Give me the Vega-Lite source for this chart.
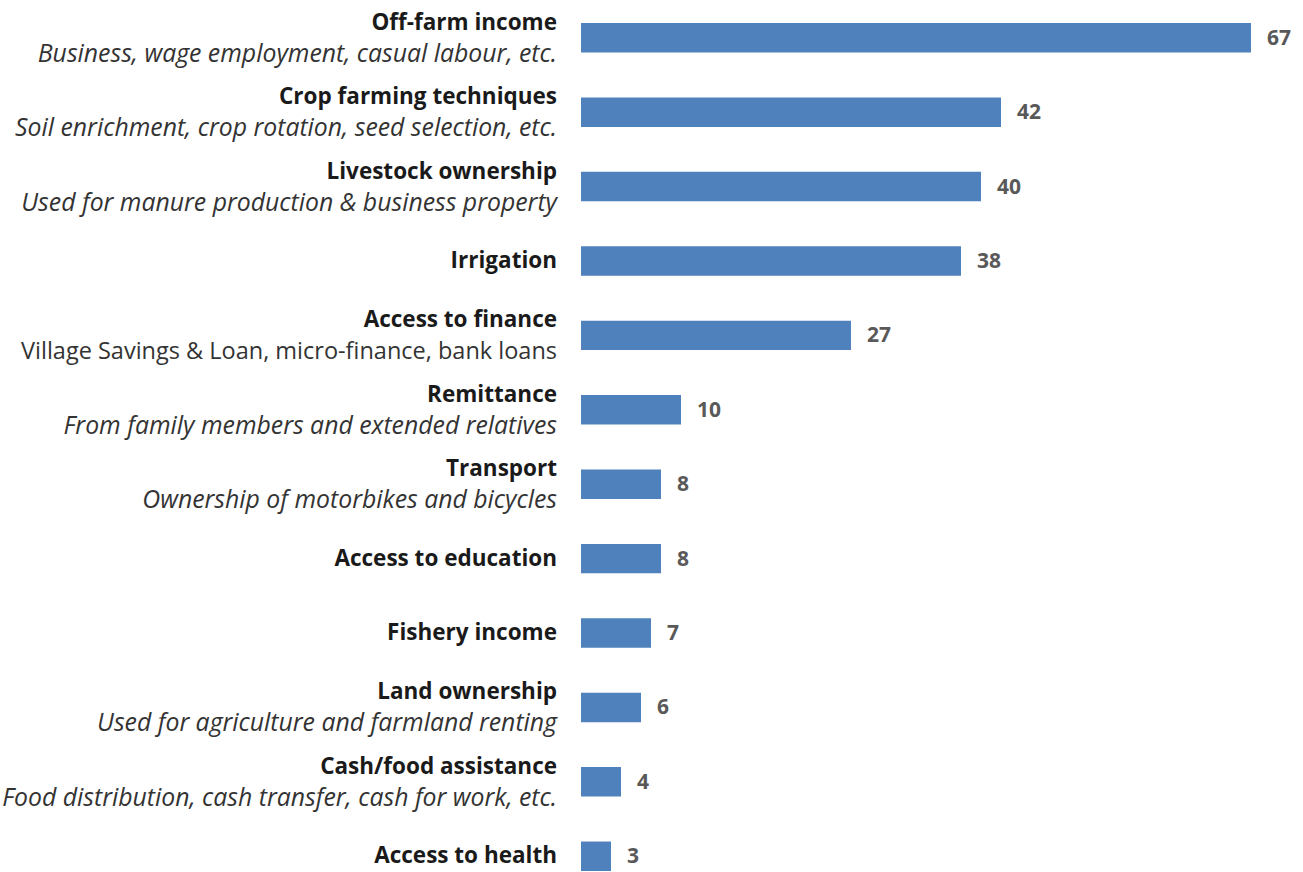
{
  "$schema": "https://vega.github.io/schema/vega-lite/v6.json",
  "width": 700,
  "height": 848,
  "autosize": {"type": "none"},
  "padding": {"left": 581, "top": 23, "right": 22, "bottom": 1},
  "background": "#ffffff",
  "config": {"view": {"stroke": null}},
  "data": {
    "values": [
      {"label": "Off-farm income", "sub": "Business, wage employment, casual labour, etc.", "value": 67},
      {"label": "Crop farming techniques", "sub": "Soil enrichment, crop rotation, seed selection, etc.", "value": 42},
      {"label": "Livestock ownership", "sub": "Used for manure production & business property", "value": 40},
      {"label": "Irrigation", "sub": "", "value": 38},
      {"label": "Access to finance", "sub": "Village Savings & Loan, micro-finance, bank loans", "value": 27},
      {"label": "Remittance", "sub": "From family members and extended relatives", "value": 10},
      {"label": "Transport", "sub": "Ownership of motorbikes and bicycles", "value": 8},
      {"label": "Access to education", "sub": "", "value": 8},
      {"label": "Fishery income", "sub": "", "value": 7},
      {"label": "Land ownership", "sub": "Used for agriculture and farmland renting", "value": 6},
      {"label": "Cash/food assistance", "sub": "Food distribution, cash transfer, cash for work, etc.", "value": 4},
      {"label": "Access to health", "sub": "", "value": 3}
    ]
  },
  "encoding": {
    "y": {"field": "label", "type": "nominal", "sort": null, "axis": null,
          "scale": {"paddingInner": 0.604, "paddingOuter": 0}}
  },
  "layer": [
    {
      "mark": {"type": "bar", "color": "#4F81BD"},
      "encoding": {
        "x": {"field": "value", "type": "quantitative", "axis": null, "scale": {"domain": [0, 70], "nice": false}}
      }
    },
    {
      "mark": {"type": "text", "align": "left", "baseline": "middle", "dx": 16, "dy": 1, "font": "Open Sans", "fontSize": 21, "fontWeight": "bold", "color": "#595959"},
      "encoding": {
        "x": {"field": "value", "type": "quantitative"},
        "text": {"field": "value", "type": "quantitative"}
      }
    },
    {
      "transform": [{"filter": "datum.sub != ''"}],
      "mark": {"type": "text", "align": "right", "baseline": "alphabetic", "dx": -24, "dy": -8, "font": "Open Sans", "fontSize": 22.5, "fontWeight": "bold", "color": "#1a1a1a"},
      "encoding": {
        "x": {"datum": 0, "type": "quantitative"},
        "text": {"field": "label"}
      }
    },
    {
      "transform": [{"filter": "datum.sub == ''"}],
      "mark": {"type": "text", "align": "right", "baseline": "alphabetic", "dx": -24, "dy": 7, "font": "Open Sans", "fontSize": 22.5, "fontWeight": "bold", "color": "#1a1a1a"},
      "encoding": {
        "x": {"datum": 0, "type": "quantitative"},
        "text": {"field": "label"}
      }
    },
    {
      "transform": [{"filter": "datum.sub != '' && datum.label != 'Access to finance'"}],
      "mark": {"type": "text", "align": "right", "baseline": "alphabetic", "dx": -24, "dy": 24, "font": "Open Sans", "fontSize": 24.8, "fontStyle": "italic", "color": "#333333"},
      "encoding": {
        "x": {"datum": 0, "type": "quantitative"},
        "text": {"field": "sub"}
      }
    },
    {
      "transform": [{"filter": "datum.label == 'Access to finance'"}],
      "mark": {"type": "text", "align": "right", "baseline": "alphabetic", "dx": -24, "dy": 24, "font": "Open Sans", "fontSize": 23.5, "color": "#333333"},
      "encoding": {
        "x": {"datum": 0, "type": "quantitative"},
        "text": {"field": "sub"}
      }
    }
  ]
}
